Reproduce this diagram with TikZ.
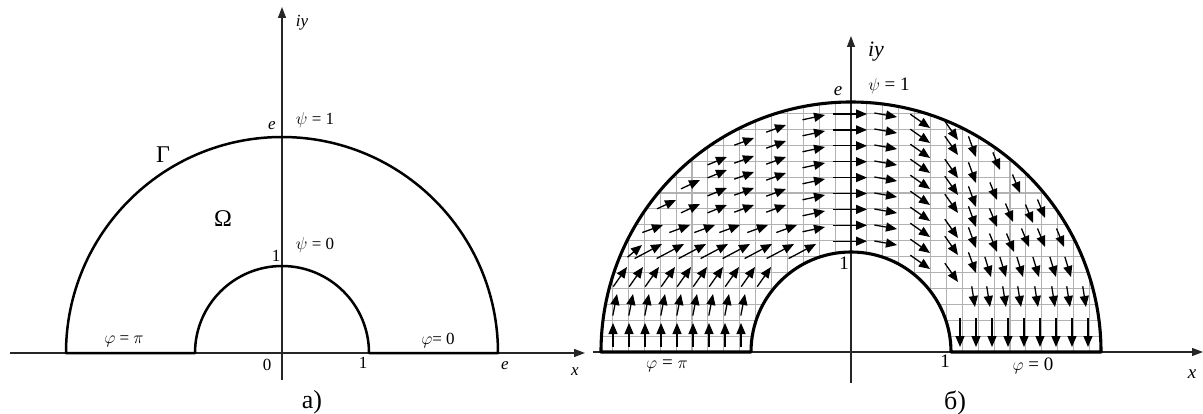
\documentclass[tikz,border=0pt]{standalone}
\usepackage{fontspec}
\setmainfont{Liberation Serif}
\usetikzlibrary{arrows.meta}
\newcommand\vecarrow[4]{\draw[vec] ({#1-(#4)*cos(#3)},{#2+(#4)*sin(#3)}) -- ({#1},{#2});}
\begin{document}
\begin{tikzpicture}[x=1pt,y=-1pt,
  bnd/.style={line width=2.5pt, line join=round},
  bndR/.style={line width=3.1pt, line join=round},
  axis/.style={line width=1.2pt, draw=black!85, -{Triangle[length=11pt,width=8pt]}},
  vec/.style={line width=1.3pt, -{Triangle[length=11pt,width=9pt]}},
  gridl/.style={line width=1.1pt, draw=black!30},
  lab/.style={inner sep=0pt, font=\fontsize{17}{19}\selectfont},
  labI/.style={inner sep=0pt, font=\fontsize{17}{19}\selectfont\itshape},
  big/.style={inner sep=0pt, font=\fontsize{24}{26}\selectfont},
  labR/.style={inner sep=0pt, font=\fontsize{19}{21}\selectfont},
  labRI/.style={inner sep=0pt, font=\fontsize{19}{21}\selectfont\itshape},
  captxt/.style={inner sep=0pt, font=\fontsize{26}{28}\selectfont}]
\useasboundingbox (0,0) rectangle (1203,414);

% ---------------- left panel a) ----------------
\coordinate (Lo) at (282,353);
\coordinate (LxA) at (10,353);
\coordinate (LxB) at (585,353);
\coordinate (LyA) at (282,380);
\coordinate (LyB) at (282,7);
\draw[axis] (LxA) -- (LxB);
\draw[axis] (LyA) -- (LyB);
\draw[bnd] (66,353) -- (195,353) arc[start angle=180,end angle=360,radius=87]
  -- (498,353) arc[start angle=0,end angle=-180,radius=216] -- cycle;

\node[labI] (Liy) at (302,23) {iy};
\node[labI] (Le) at (272,126) {e};
\node[lab] (Lpsi1) at (315,120) {$\psi$ = 1};
\node[big] (LGamma) at (163,155) {Γ};
\node[big] (LOmega) at (223,219) {Ω};
\node[lab] (Lpsi0) at (315,245) {$\psi$ = 0};
\node[lab] (Lone) at (276,256) {1};
\node[lab] (Lphipi) at (124,341) {$\varphi$ = $\pi$};
\node[lab] (Lphi0) at (438,341) {$\varphi$= 0};
\node[lab] (Lzero) at (267,365) {0};
\node[lab] (Lone2) at (363,363) {1};
\node[labI] (Le2) at (505,366) {e};
\node[labI] (Lx) at (575,372) {x};
\node[captxt] (Lcap) at (312,402) {а)};

% ---------------- right panel б) ----------------
\coordinate (Ro) at (851,352);
\begin{scope}[even odd rule]
  \clip (Ro) circle[radius=250] (Ro) circle[radius=100];
  \foreach \i in {-16,...,16} {\draw[gridl] ({851+15.9*\i},352) -- ({851+15.9*\i},100);}
  \foreach \j in {1,...,16} {\draw[gridl] (600,{352-15.9*\j}) -- (1102,{352-15.9*\j});}
\end{scope}
\coordinate (RxA) at (593,352);
\coordinate (RxB) at (1203,352);
\coordinate (RyA) at (851,383);
\coordinate (RyB) at (851,36);
\draw[axis] (RxA) -- (RxB);
\draw[axis] (RyA) -- (RyB);

% vector field, left half
\foreach \k in {0,...,8} {\vecarrow{613+16*\k}{323}{90}{24}}
\foreach \k in {0,...,8} {\vecarrow{617+16*\k}{294}{79}{22}}
\foreach \k in {0,...,9} {\vecarrow{627+16*\k}{267}{55}{24}}
\vecarrow{642}{245}{40}{19}
\foreach \k in {1,...,8} {\vecarrow{640+22*\k}{244}{28}{31}}
\foreach \t in {663,690,715,740,768,797} {\vecarrow{\t}{225}{20}{22}}
\foreach \k in {0,...,8} {\vecarrow{867}{114+15.9*\k}{0}{34}}
\foreach \k in {0,...,7} {\vecarrow{825}{115+16*\k}{12}{23}}
\foreach \y in {125,141,157,173,189,205} {\vecarrow{786}{\y}{20}{21}}
\foreach \y in {138,156,172,188,205} {\vecarrow{754}{\y}{20}{21}}
\foreach \y in {157,170,188,205} {\vecarrow{727}{\y}{22}{21}}
\foreach \y in {180,204} {\vecarrow{700}{\y}{25}{21}}
\vecarrow{676}{200}{25}{21}

% vector field, right half
\foreach \k in {0,...,8} {\vecarrow{897}{117+16*\k}{-10}{23}}
\foreach \y in {128,143,158,173,189,205,221,237,253,269} {\vecarrow{930}{\y}{-35}{24}}
\foreach \y in {140,155,178,195,213,238,255,282} {\vecarrow{958}{\y}{-55}{23}}
\foreach \y in {157,183,207,227,248,273} {\vecarrow{976}{\y}{-70}{22}}
\vecarrow{1000}{170}{-68}{19}
\vecarrow{997}{200}{-68}{19}
\vecarrow{1020}{193}{-68}{20}
\foreach \x/\y in {997/227,1013/222,1033/223,1045/218} {\vecarrow{\x}{\y}{-68}{20}}
\foreach \x/\y in {997/252,1014/252,1029/247,1045/247,1064/247} {\vecarrow{\x}{\y}{-68}{20}}
\foreach \x in {991,1006,1023,1039,1056,1071} {\vecarrow{\x}{277}{-73}{21}}
\foreach \x in {975,990,1006,1021,1038,1055,1070,1086} {\vecarrow{\x}{307}{-81}{21}}
\foreach \k in {0,...,8} {\vecarrow{960+16*\k}{347}{-90}{29}}

\draw[bndR] (601,352) -- (751,352) arc[start angle=180,end angle=360,radius=100]
  -- (1101,352) arc[start angle=0,end angle=-180,radius=250] -- cycle;

\node[inner sep=0pt, font=\fontsize{22}{24}\selectfont\itshape] (Riy) at (876,52) {iy};
\node[labRI] (Re) at (838,91) {e};
\node[labR] (Rpsi1) at (889,86) {$\psi$ = 1};
\node[labR] (Rone) at (844,263) {1};
\node[labR] (Rphipi) at (667,366) {$\varphi$ = $\pi$};
\node[labR] (Rone2) at (945,361) {1};
\node[labR] (Rphi0) at (1033,366) {$\varphi$ = 0};
\node[labRI] (Rx) at (1192,374) {x};
\node[captxt] (Rcap) at (955,403) {б)};
\end{tikzpicture}
\end{document}
